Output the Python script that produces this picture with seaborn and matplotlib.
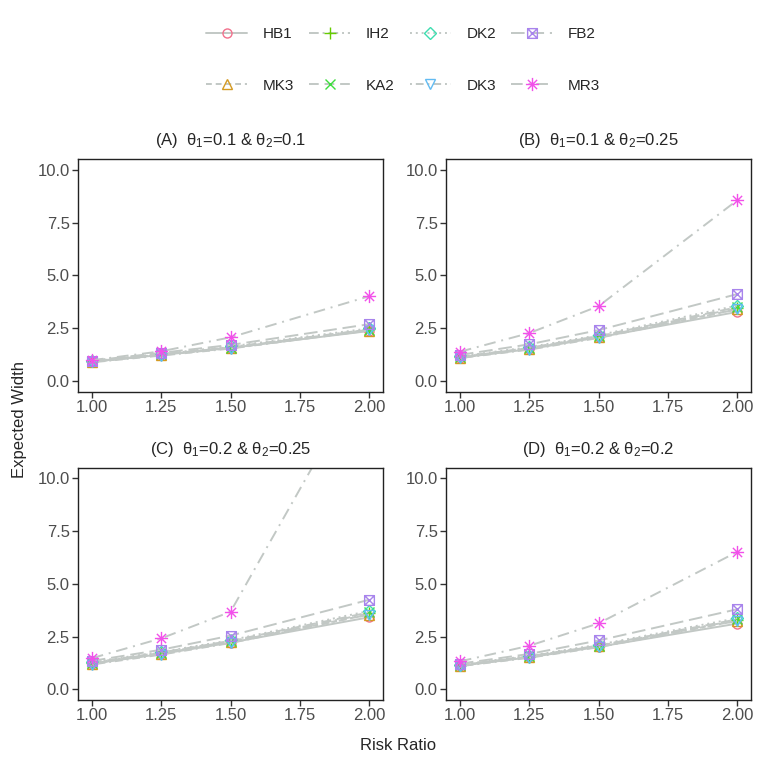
import numpy as np
import pandas as pd
import matplotlib
matplotlib.use("Agg")
import matplotlib.pyplot as plt
from matplotlib.path import Path
from matplotlib.markers import MarkerStyle
from matplotlib.ticker import FormatStrFormatter
import seaborn as sns

sns.set_style("white")
plt.rcParams['font.family'] = ['Liberation Sans', 'DejaVu Sans']
plt.rcParams['mathtext.fontset'] = 'custom'
plt.rcParams['mathtext.rm'] = 'Liberation Sans'
plt.rcParams['mathtext.it'] = 'Liberation Sans:italic'

# x values (risk ratio)
risk_ratio = [1.00, 1.25, 1.50, 2.00]

# methods in factor order (ggplot column order of the legend)
methods = ["HB1", "MK3", "IH2", "KA2", "DK2", "DK3", "FB2", "MR3"]

# expected width
panel_a = {
    "HB1": [0.93, 1.25, 1.58, 2.38],
    "MK3": [0.92, 1.24, 1.57, 2.40],
    "IH2": [0.95, 1.28, 1.62, 2.45],
    "KA2": [0.94, 1.27, 1.60, 2.44],
    "DK2": [0.96, 1.30, 1.65, 2.50],
    "DK3": [0.90, 1.22, 1.55, 2.42],
    "FB2": [0.98, 1.35, 1.72, 2.70],
    "MR3": [1.00, 1.42, 2.08, 4.02],
}
panel_b = {
    "HB1": [1.12, 1.52, 2.08, 3.28],
    "MK3": [1.12, 1.55, 2.10, 3.40],
    "IH2": [1.15, 1.57, 2.13, 3.45],
    "KA2": [1.16, 1.58, 2.14, 3.50],
    "DK2": [1.18, 1.62, 2.18, 3.58],
    "DK3": [1.10, 1.50, 2.05, 3.40],
    "FB2": [1.25, 1.75, 2.42, 4.12],
    "MR3": [1.40, 2.28, 3.55, 8.55],
}
panel_c = {
    "HB1": [1.22, 1.68, 2.22, 3.42],
    "MK3": [1.22, 1.70, 2.25, 3.55],
    "IH2": [1.26, 1.73, 2.28, 3.60],
    "KA2": [1.27, 1.75, 2.30, 3.65],
    "DK2": [1.30, 1.78, 2.33, 3.72],
    "DK3": [1.18, 1.65, 2.20, 3.55],
    "FB2": [1.35, 1.88, 2.55, 4.25],
    "MR3": [1.48, 2.42, 3.68, 15.3],
}
panel_d = {
    "HB1": [1.12, 1.52, 2.02, 3.12],
    "MK3": [1.12, 1.54, 2.05, 3.25],
    "IH2": [1.15, 1.56, 2.07, 3.28],
    "KA2": [1.15, 1.57, 2.08, 3.32],
    "DK2": [1.17, 1.60, 2.12, 3.38],
    "DK3": [1.10, 1.50, 2.00, 3.25],
    "FB2": [1.22, 1.68, 2.32, 3.80],
    "MR3": [1.33, 2.07, 3.13, 6.52],
}
panel_titles = [
    "(A)  θ$_1$=0.1 & θ$_2$=0.1",
    "(B)  θ$_1$=0.1 & θ$_2$=0.25",
    "(C)  θ$_1$=0.2 & θ$_2$=0.25",
    "(D)  θ$_1$=0.2 & θ$_2$=0.2",
]
panels = [panel_a, panel_b, panel_c, panel_d]

# styles
colors = {"HB1": "#F2708C", "MK3": "#D49A22", "IH2": "#66CC00", "KA2": "#3EDD3E",
          "DK2": "#3EDDB0", "DK3": "#62BBF2", "FB2": "#A884EC", "MR3": "#F250EA"}

sq_cross = Path([(-1, -1), (1, -1), (1, 1), (-1, 1), (-1, -1), (-1, -1), (1, 1), (-1, 1), (1, -1)],
                [Path.MOVETO, Path.LINETO, Path.LINETO, Path.LINETO, Path.CLOSEPOLY,
                 Path.MOVETO, Path.LINETO, Path.MOVETO, Path.LINETO])
star8 = Path([(0, -1), (0, 1), (-1, 0), (1, 0), (-0.7, -0.7), (0.7, 0.7), (-0.7, 0.7), (0.7, -0.7)],
             [Path.MOVETO, Path.LINETO] * 4)
markers = {"HB1": "o", "MK3": "^", "IH2": "+", "KA2": "x",
           "DK2": "D", "DK3": "v", "FB2": sq_cross, "MR3": star8}
msizes = {"HB1": 6.5, "MK3": 7, "IH2": 9, "KA2": 6.5, "DK2": 6, "DK3": 7, "FB2": 7, "MR3": 9.5}
linestyles = {"HB1": "-", "MK3": (0, (3, 2)), "IH2": (0, (5, 2, 1, 2)), "KA2": (0, (5, 3)),
              "DK2": (0, (1, 2)), "DK3": (0, (1, 2, 4, 2)), "FB2": (0, (7, 3)),
              "MR3": (0, (6, 3, 1, 3))}
line_grey = "#C2C8C5"

fig = plt.figure(figsize=(7.61, 7.61), dpi=100)
positions = [[0.1025, 0.4849, 0.4008, 0.3062], [0.5861, 0.4849, 0.4008, 0.3062],
             [0.1025, 0.0802, 0.4008, 0.3049], [0.5861, 0.0802, 0.4008, 0.3049]]

handles = []
for i, (vals, title) in enumerate(zip(panels, panel_titles)):
    ax = fig.add_axes(positions[i])
    for m in methods:
        d = pd.DataFrame({"rr": risk_ratio, "width": vals[m]})
        sns.lineplot(data=d, x="rr", y="width", ax=ax, color=line_grey, lw=1.4,
                     linestyle=linestyles[m],
                     marker=MarkerStyle(markers[m], fillstyle="none"),
                     markersize=msizes[m], markeredgecolor=colors[m],
                     markerfacecolor="none", markeredgewidth=1.0, legend=False)
    if i == 0:
        handles = list(ax.lines)
    ax.set_xlim(0.95, 2.05)
    ax.set_ylim(-0.5, 10.5)
    ax.set_xticks([1.0, 1.25, 1.5, 1.75, 2.0])
    ax.set_yticks([0, 2.5, 5, 7.5, 10])
    ax.xaxis.set_major_formatter(FormatStrFormatter("%.2f"))
    ax.yaxis.set_major_formatter(FormatStrFormatter("%.1f"))
    ax.set_xlabel("")
    ax.set_ylabel("")
    ax.tick_params(axis="both", length=4, width=1.0, color="#333333",
                   labelsize=12, labelcolor="#4D4D4D", left=True, bottom=True, pad=2)
    for s in ax.spines.values():
        s.set_color("#222222")
        s.set_linewidth(1.0)
    ax.set_title(title, fontsize=12, pad=10)

fig.text(398 / 761, 1 - 745 / 761, "Risk Ratio", ha="center", va="center", fontsize=12)
fig.text(20 / 761, 1 - 420 / 761, "Expected Width", ha="center", va="center",
         rotation=90, fontsize=12)

fig.legend(handles=handles, labels=methods, ncol=4, loc="center",
           bbox_to_anchor=(403 / 761, 1 - 60 / 761), frameon=False, fontsize=11,
           handlelength=2.7, handletextpad=1.0, columnspacing=1.0, labelspacing=2.45)

fig.savefig("out.png", dpi=100)
